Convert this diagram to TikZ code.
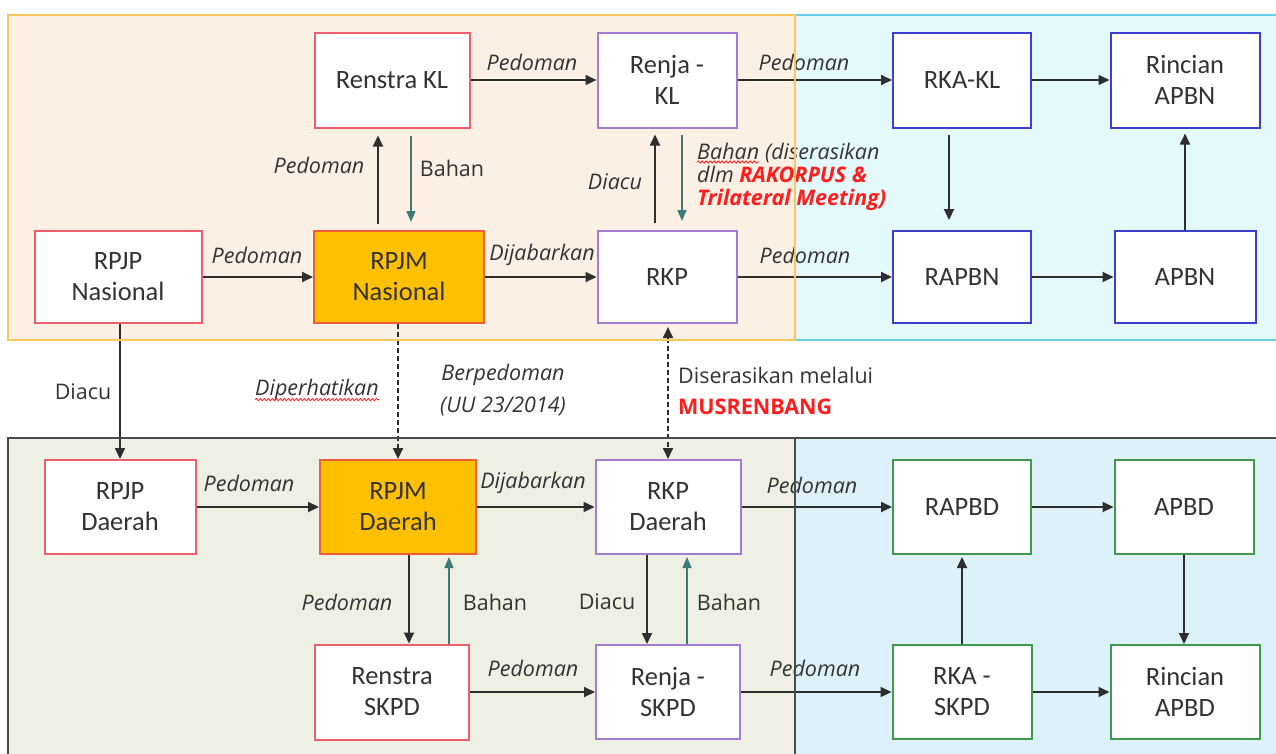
\documentclass[tikz,border=0pt]{standalone}
\usepackage{fontspec}
\setmainfont{Carlito}
\newfontfamily\lblfont{Open Sans}
\usetikzlibrary{arrows.meta,decorations.pathmorphing}
\definecolor{peachfill}{HTML}{FCEFE4}
\definecolor{peachline}{HTML}{F7C95C}
\definecolor{cyanfill}{HTML}{E4F9FB}
\definecolor{cyanline}{HTML}{6ACBEA}
\definecolor{olivefill}{HTML}{EEF0E3}
\definecolor{bluefill}{HTML}{DDF1FA}
\definecolor{regline}{HTML}{4A4A4A}
\definecolor{redline}{HTML}{EE5E6B}
\definecolor{orgfill}{HTML}{FFC000}
\definecolor{orgline}{HTML}{EF5D3A}
\definecolor{purpline}{HTML}{A47CD2}
\definecolor{blueline}{HTML}{3D3DCF}
\definecolor{greenline}{HTML}{3F9A50}
\definecolor{txt}{HTML}{333333}
\definecolor{arr}{HTML}{2E2E2E}
\definecolor{tealarr}{HTML}{3D7A78}
\definecolor{redtxt}{HTML}{FF1E1E}
\tikzset{
  box/.style={draw, line width=2pt, fill=white, text=txt, align=center, inner sep=0pt,
    font=\fontsize{26.5}{31}\selectfont},
  redbox/.style={box, draw=redline},
  orgbox/.style={box, draw=orgline, fill=orgfill},
  purbox/.style={box, draw=purpline},
  bluebox/.style={box, draw=blueline},
  greenbox/.style={box, draw=greenline},
  arrow/.style={draw=arr, line width=1.8pt, -{Triangle[length=11pt,width=10pt]}},
  tarrow/.style={draw=tealarr, line width=1.4pt, -{Triangle[length=11pt,width=9pt]}},
  dasharrow/.style={arrow, dash pattern=on 5pt off 3pt},
  lbl/.style={text=txt, inner sep=0pt, font=\fontsize{21.5}{25}\selectfont\lblfont\itshape},
  lblr/.style={text=txt, inner sep=0pt, font=\fontsize{21.5}{25}\selectfont\lblfont},
  wavy/.style={draw=redtxt, line width=0.8pt, decorate,
    decoration={snake, amplitude=1.1pt, segment length=4pt}},
}
\begin{document}
\begin{tikzpicture}[x=1pt,y=-1pt]
\useasboundingbox (0,0) rectangle (1276,753);
% region fills
\begin{scope}
\clip (0,0) rectangle (1276,753);
\fill[cyanfill] (795,15) rectangle (1290,340);
\fill[peachfill] (8,15) rectangle (795,340);
\fill[olivefill] (8,438) rectangle (795,770);
\fill[bluefill] (795,438) rectangle (1290,770);
\end{scope}

% boxes
\node[redbox, minimum width=167pt, minimum height=92pt] (rpjpn) at (118,277) {RPJP\\Nasional};
\node[orgbox, minimum width=170pt, minimum height=92pt] (rpjmn) at (399,277) {RPJM\\Nasional};
\node[redbox, minimum width=155pt, minimum height=95pt] (renstrakl) at (392,80) {Renstra KL};
\node[purbox, minimum width=139pt, minimum height=95pt] (renjakl) at (667,80) {Renja -\\KL};
\node[purbox, minimum width=139pt, minimum height=92pt] (rkp) at (667,277) {RKP};
\node[bluebox, minimum width=138pt, minimum height=95pt] (rkakl) at (962,80) {RKA-KL};
\node[bluebox, minimum width=149pt, minimum height=95pt] (rincianapbn) at (1185,80) {Rincian\\APBN};
\node[bluebox, minimum width=138pt, minimum height=92pt] (rapbn) at (962,277) {RAPBN};
\node[bluebox, minimum width=141pt, minimum height=92pt] (apbn) at (1185,277) {APBN};
\node[redbox, minimum width=151pt, minimum height=94pt] (rpjpd) at (120,507) {RPJP\\Daerah};
\node[orgbox, minimum width=156pt, minimum height=94pt] (rpjmd) at (398,507) {RPJM\\Daerah};
\node[purbox, minimum width=145pt, minimum height=94pt] (rkpd) at (668,507) {RKP\\Daerah};
\node[greenbox, minimum width=138pt, minimum height=94pt] (rapbd) at (962,507) {RAPBD};
\node[greenbox, minimum width=139pt, minimum height=94pt] (apbd) at (1184,507) {APBD};
\node[redbox, minimum width=154pt, minimum height=95pt] (renstraskpd) at (392,692) {Renstra\\SKPD};
\node[purbox, minimum width=144pt, minimum height=94pt] (renjaskpd) at (668,692) {Renja -\\SKPD};
\node[greenbox, minimum width=139pt, minimum height=94pt] (rkaskpd) at (962,692) {RKA -\\SKPD};
\node[greenbox, minimum width=149pt, minimum height=94pt] (rincianapbd) at (1185,692) {Rincian\\APBD};

% horizontal connectors
\draw[arrow] (renstrakl.east) -- (renjakl.west);
\draw[arrow] (renjakl.east) -- (rkakl.west);
\draw[arrow] (rkakl.east) -- (rincianapbn.west);
\draw[arrow] (rpjpn.east) -- (rpjmn.west);
\draw[arrow] (rpjmn.east) -- (rkp.west);
\draw[arrow] (rkp.east) -- (rapbn.west);
\draw[arrow] (rapbn.east) -- (apbn.west);
\draw[arrow] (rpjpd.east) -- (rpjmd.west);
\draw[arrow] (rpjmd.east) -- (rkpd.west);
\draw[arrow] (rkpd.east) -- (rapbd.west);
\draw[arrow] (rapbd.east) -- (apbd.west);
\draw[arrow] (renstraskpd.east) -- (renjaskpd.west);
\draw[arrow] (renjaskpd.east) -- (rkaskpd.west);
\draw[arrow] (rkaskpd.east) -- (rincianapbd.west);

% vertical connectors, top
\coordinate (v1) at ([xshift=-14pt]renstrakl.south);
\coordinate (v2) at ([xshift=19pt]renstrakl.south);
\coordinate (v3) at ([xshift=-12pt]renjakl.south);
\coordinate (v4) at ([xshift=15pt]renjakl.south);
\coordinate (v5) at ([xshift=-13pt]rkakl.south);
\coordinate (v6) at (rincianapbn.south);
\draw[arrow, shorten <=6pt, shorten >=7pt] (v1 |- rpjmn.north) -- (v1);
\draw[tarrow, shorten <=7pt, shorten >=8pt] (v2) -- (v2 |- rpjmn.north);
\draw[arrow, shorten <=7pt, shorten >=6pt] (v3 |- rkp.north) -- (v3);
\draw[tarrow, shorten <=6pt, shorten >=9pt] (v4) -- (v4 |- rkp.north);
\draw[arrow, shorten <=6pt, shorten >=10pt] (v5) -- (v5 |- rapbn.north);
\draw[arrow, shorten >=5pt] (v6 |- apbn.north) -- (v6);

% between the two levels
\coordinate (v7) at (rpjpd.north);
\coordinate (v8) at (rpjmd.north);
\coordinate (v9) at (rkpd.north);
\draw[arrow] (v7 |- rpjpn.south) -- (v7);
\draw[dasharrow] (v8 |- rpjmn.south) -- (v8);
\draw[dasharrow, {Triangle[length=11pt,width=10pt]}-{Triangle[length=11pt,width=10pt]}, shorten <=3pt] (v9 |- rkp.south) -- (v9);

% vertical connectors, bottom
\coordinate (w1) at ([xshift=11pt]rpjmd.south);
\coordinate (w2) at ([xshift=51pt]rpjmd.south);
\coordinate (w3) at ([xshift=-21pt]rkpd.south);
\coordinate (w4) at ([xshift=19pt]rkpd.south);
\coordinate (w5) at (rapbd.south);
\coordinate (w6) at (apbd.south);
\draw[arrow] (w1) -- (w1 |- renstraskpd.north);
\draw[tarrow, shorten >=2pt] (w2 |- renstraskpd.north) -- (w2);
\draw[arrow] (w3) -- (w3 |- renjaskpd.north);
\draw[tarrow, shorten >=2pt] (w4 |- renjaskpd.north) -- (w4);
\draw[arrow, shorten >=2pt] (w5 |- rkaskpd.north) -- (w5);
\draw[arrow] (w6) -- (w6 |- rincianapbd.north);

% labels, top level
\node[lbl] (l1) at (532,62) {Pedoman};
\node[lbl] (l2) at (804,62) {Pedoman};
\node[lbl] (l3) at (257,255) {Pedoman};
\node[lbl] (l4) at (542,255) {Dijabarkan};
\node[lbl] (l5) at (805,255) {Pedoman};
\node[lbl] (l6) at (319,165) {Pedoman};
\node[lblr] (l7) at (452,168) {Bahan};
\node[lbl] (l8) at (615,182) {Diacu};
\node[lbl, anchor=base west] (l9a) at (697,159) {Bahan};
\node[lbl, anchor=base west] (l9b) at (l9a.base east) {\ (diserasikan};
\node[lbl, anchor=base west] (l9c) at (697,182) {dlm \textbf{\color{redtxt}RAKORPUS \&}};
\node[lbl, anchor=base west, text=redtxt] (l9d) at (697,205) {\bfseries Trilateral Meeting)};
\draw[wavy] ([yshift=-3pt]l9a.base west) -- ([yshift=-3pt]l9a.base east);

% labels between levels
\node[lblr] (l10) at (83,392) {Diacu};
\node[lbl] (l11) at (317,390) {Diperhatikan};
\draw[wavy] ([yshift=-4pt]l11.base west) -- ([yshift=-4pt]l11.base east);
\node[lbl] (l12) at (503,375) {Berpedoman};
\node[lbl] (l13) at (503,406) {(UU 23/2014)};
\node[lblr, anchor=west] (l14) at (678,375) {Diserasikan melalui};
\node[lblr, anchor=west, text=redtxt, font=\fontsize{21.5}{25}\selectfont\lblfont\bfseries] (l15) at (678,407) {MUSRENBANG};

% labels, bottom level
\node[lbl] (l16) at (249,483) {Pedoman};
\node[lbl] (l17) at (533,483) {Dijabarkan};
\node[lbl] (l18) at (812,485) {Pedoman};
\node[lbl] (l19) at (347,602) {Pedoman};
\node[lblr] (l20) at (495,602) {Bahan};
\node[lblr] (l21) at (607,602) {Diacu};
\node[lblr] (l22) at (729,602) {Bahan};
\node[lbl] (l23) at (533,668) {Pedoman};
\node[lbl] (l24) at (815,668) {Pedoman};

% region borders (drawn on top)
\begin{scope}
\clip (0,0) rectangle (1276,753);
\draw[cyanline, line width=2pt] (795,15) rectangle (1290,340);
\draw[peachline, line width=2pt] (8,15) rectangle (795,340);
\draw[regline, line width=2pt] (8,438) rectangle (795,770);
\draw[regline, line width=2pt] (795,438) rectangle (1290,770);
\end{scope}
\end{tikzpicture}
\end{document}
